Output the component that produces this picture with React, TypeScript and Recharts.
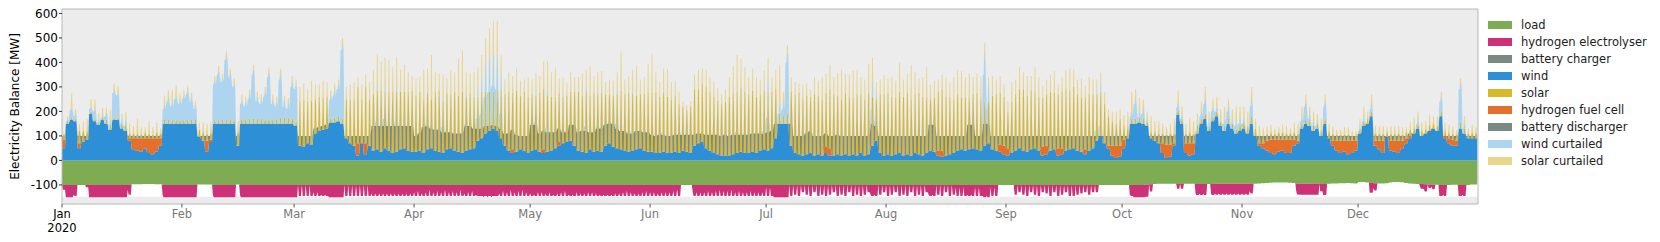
import { AreaChart, Area, XAxis, YAxis, CartesianGrid, ReferenceArea, Label } from 'recharts';

const FONT = 'DejaVu Sans, sans-serif';

const months = ['Jan', 'Feb', 'Mar', 'Apr', 'May', 'Jun', 'Jul', 'Aug', 'Sep', 'Oct', 'Nov', 'Dec'];
const monthStarts = [0, 31, 60, 91, 121, 152, 182, 213, 244, 274, 305, 335];
const yTicks = [-100, 0, 100, 200, 300, 400, 500, 600];

// daily values in MW, one row per month (2020)
const wind = [
  50,150,165,160,50,75,85,190,160,145,165,150,125,165,165,130,120,80,45,40,35,50,30,25,35,60,150,150,150,150,150,
  150,150,150,150,95,80,35,75,150,150,150,150,150,150,60,150,150,150,150,150,150,150,150,150,150,150,150,150,150,
  140,60,55,70,65,110,120,125,130,155,155,160,150,90,70,60,20,70,25,60,40,45,35,50,40,30,35,45,50,40,35,
  35,40,30,45,50,40,35,30,45,50,40,35,30,40,45,50,80,90,110,120,130,120,90,60,40,30,35,45,40,30,
  40,45,35,30,35,40,50,60,70,75,80,60,40,35,30,45,35,40,35,60,70,55,50,45,40,35,40,45,50,40,35,
  35,30,30,35,30,30,35,30,40,35,30,60,70,75,50,40,30,25,20,20,20,25,30,35,30,30,35,30,40,45,
  40,50,90,150,150,150,60,30,25,20,25,30,20,25,20,30,20,20,25,20,25,20,25,20,30,20,25,60,80,30,20,
  25,20,25,30,20,25,20,30,25,20,30,40,35,20,15,20,25,30,40,45,40,45,50,45,40,60,70,45,40,35,25,
  20,30,40,50,40,35,45,50,40,20,25,40,45,20,25,40,45,50,40,35,25,40,50,80,100,70,50,20,10,15,
  50,90,150,150,155,150,140,90,80,70,30,10,15,60,185,150,30,20,25,110,150,170,120,160,180,140,120,150,130,110,120,
  130,110,150,100,60,50,40,30,25,35,40,30,30,60,70,130,150,140,120,130,100,150,90,60,40,30,35,25,30,40,
  110,140,150,180,60,45,30,95,40,35,30,50,70,90,110,130,100,110,120,130,120,180,90,70,60,60,130,110,90,90,90,
];

const solar = [
  20,10,10,10,50,45,35,10,10,10,10,15,20,10,10,20,30,20,20,20,15,25,20,15,25,20,15,15,15,15,15,
  15,15,15,15,30,35,30,30,15,15,15,15,15,15,60,20,20,20,20,20,20,20,20,20,20,25,25,25,25,
  20,180,190,170,180,140,140,130,130,20,20,20,20,160,180,190,230,180,230,190,230,240,250,230,240,250,245,235,230,240,250,
  230,240,220,230,200,240,250,210,230,220,240,230,250,220,230,210,180,190,170,160,150,170,200,210,240,230,250,220,240,230,
  230,220,240,250,230,220,210,200,190,190,200,220,240,230,250,220,240,230,240,210,200,210,220,240,230,240,230,220,220,230,240,
  240,250,230,240,230,220,230,200,180,170,190,230,220,240,250,240,230,220,210,220,240,250,250,260,250,240,250,230,230,240,
  240,230,200,40,30,40,220,240,250,230,240,230,250,240,230,220,240,250,240,230,250,240,230,250,240,230,250,200,170,240,250,
  250,240,230,250,240,250,230,240,250,240,230,210,220,240,250,240,230,220,230,210,220,210,220,230,210,180,170,220,230,210,200,
  150,210,230,240,250,230,240,230,220,200,210,240,230,220,230,250,240,250,230,220,210,230,220,190,180,160,120,100,90,110,
  60,50,20,20,20,20,20,30,40,40,40,40,45,40,20,20,40,45,40,30,20,20,20,20,20,20,20,20,20,20,30,
  30,30,30,30,30,30,30,30,25,30,30,25,25,30,30,20,20,20,20,20,20,20,30,30,25,25,25,25,20,20,
  20,20,20,20,30,30,30,20,30,30,30,25,25,25,25,20,25,20,25,20,20,20,25,25,25,25,25,20,20,25,25,
];

const fuelCell = [
  35,0,0,0,20,0,0,0,0,0,0,0,0,0,0,0,0,10,45,50,55,40,60,65,55,30,0,0,0,0,0,
  0,0,0,0,0,0,45,10,0,0,0,0,0,0,0,0,0,0,0,0,0,0,0,0,0,0,0,0,0,
  0,0,0,0,0,0,0,0,0,0,0,0,0,0,0,0,50,0,45,0,0,0,0,0,0,0,0,0,0,0,0,
  0,0,0,0,0,0,0,0,0,0,0,0,0,0,0,0,0,0,0,0,0,0,0,0,0,15,0,0,0,0,
  0,0,0,15,0,0,0,15,0,0,0,0,0,0,0,0,0,0,0,0,0,0,0,0,0,0,0,0,0,0,0,
  0,0,0,0,0,0,0,0,0,0,0,0,0,0,0,0,0,0,0,0,0,0,0,0,0,0,0,0,0,0,
  0,0,0,0,0,0,0,0,0,0,0,0,0,0,0,25,30,0,0,0,0,0,0,0,0,0,0,0,0,0,0,
  0,0,0,0,0,0,0,0,0,0,0,0,0,20,25,0,0,0,0,0,0,0,0,0,0,0,0,0,0,30,35,
  30,0,0,0,0,0,0,0,0,35,35,0,0,30,25,0,0,0,0,0,20,0,0,0,0,0,10,40,50,45,
  35,0,0,0,0,0,0,0,0,0,40,55,50,10,0,0,40,50,45,0,0,0,0,0,0,0,0,0,0,0,0,
  0,0,0,0,10,20,40,55,60,50,45,55,55,25,10,0,0,0,0,0,0,0,0,20,40,50,45,55,50,40,
  0,0,0,0,20,35,50,0,40,45,50,30,20,10,0,0,0,0,0,0,0,0,10,20,25,20,0,0,0,0,0,
];

const discharger = [
  15,0,0,0,30,25,15,0,0,0,0,0,0,0,0,0,0,10,10,10,10,10,10,10,10,10,0,0,0,0,0,
  0,0,0,0,5,20,20,15,0,0,0,0,0,0,40,0,0,0,0,0,0,0,0,0,0,0,0,0,0,
  0,40,45,30,35,20,15,15,15,0,0,0,0,10,30,40,30,30,30,40,100,95,105,90,100,110,105,95,90,100,105,
  65,70,105,95,80,85,90,85,70,65,70,75,80,100,95,80,50,40,30,20,15,20,40,50,70,80,70,55,60,70,
  105,100,75,75,80,75,65,55,45,40,65,85,75,85,90,70,80,90,95,85,80,95,80,75,80,75,70,75,70,75,80,
  70,70,75,70,70,70,70,75,65,70,75,45,40,35,55,65,75,80,80,85,80,80,75,70,75,75,75,80,70,65,
  75,70,60,0,0,0,90,70,75,80,85,90,80,75,80,55,50,80,80,80,75,80,75,80,70,80,75,90,60,70,80,
  75,80,75,70,80,75,80,70,75,80,70,105,110,60,60,80,75,70,60,55,60,100,95,55,60,90,80,55,60,35,40,
  50,70,60,50,60,65,55,50,60,45,40,60,55,50,50,60,55,50,60,65,55,60,50,20,0,30,40,40,40,40,
  15,10,0,0,0,0,0,10,20,30,30,35,35,30,0,0,30,30,30,0,0,0,0,0,0,0,0,0,0,0,0,
  0,0,0,0,30,30,20,15,15,15,15,15,15,15,20,0,0,0,0,0,0,0,10,20,20,20,20,20,20,20,
  0,0,0,0,20,20,20,5,20,20,20,20,10,10,0,0,0,0,0,0,0,0,0,10,15,20,0,0,10,10,10,
];

const windCurtailed = [
  0,10,40,20,0,0,0,20,40,10,10,30,20,110,100,20,20,0,0,0,0,0,0,0,0,0,60,90,70,100,80,
  100,120,90,60,0,0,0,0,160,200,170,260,190,150,0,80,70,100,200,90,80,110,190,80,70,180,70,60,150,
  150,0,0,0,0,0,0,0,0,90,110,130,300,0,0,0,0,0,0,0,0,20,0,30,0,0,20,0,0,0,0,
  0,0,0,10,0,0,0,20,0,0,0,0,0,10,0,0,40,60,120,140,160,150,60,0,0,0,0,0,0,0,
  0,10,0,0,20,0,0,0,10,0,0,0,0,0,20,0,0,10,0,0,0,0,20,0,0,0,10,0,0,0,0,
  0,0,0,10,0,0,0,0,0,0,0,0,0,0,0,0,0,0,0,0,0,0,10,0,0,0,0,0,0,10,
  60,0,0,40,60,250,0,0,0,0,0,0,0,0,0,0,0,0,0,0,0,0,0,0,0,0,0,60,20,0,0,
  0,0,0,0,0,0,0,0,0,0,0,0,0,0,0,0,0,0,0,0,0,0,0,0,0,200,60,0,0,0,0,
  0,0,0,0,0,0,0,0,0,0,0,0,0,0,0,0,0,0,0,0,0,0,0,20,40,0,0,0,0,0,
  0,0,30,80,20,40,10,0,0,0,0,0,0,0,30,20,0,0,0,10,30,60,20,40,20,10,30,50,20,30,30,
  20,10,70,0,0,0,0,0,0,0,0,0,0,0,0,30,70,30,20,10,10,70,0,0,0,0,0,0,0,0,
  10,20,0,30,0,0,0,0,0,0,0,0,0,0,0,20,0,0,0,0,0,60,0,0,0,0,160,20,0,0,0,
];

const solarCurtailed = [
  10,10,60,20,30,40,50,30,40,30,30,20,40,30,30,20,30,40,30,60,30,20,50,30,40,20,40,30,50,40,30,
  20,20,20,20,30,40,40,40,20,20,20,20,20,20,40,20,20,20,20,20,20,20,20,20,20,20,20,20,20,
  20,60,70,50,80,60,50,70,60,20,30,20,30,50,60,70,40,60,50,70,100,130,120,110,130,100,120,90,110,80,60,
  70,60,120,90,180,80,70,90,60,100,80,150,170,90,80,100,80,90,100,120,130,130,80,60,80,70,90,60,50,80,
  60,80,70,110,120,100,120,60,70,50,80,60,60,90,70,120,70,80,90,50,60,60,70,160,60,70,90,120,60,70,120,
  160,80,60,90,110,70,60,50,20,20,20,60,80,60,70,60,60,50,40,50,80,110,140,120,100,70,90,80,60,70,
  80,60,80,160,40,30,60,50,40,60,50,30,70,60,90,80,100,70,90,120,80,90,110,100,70,80,120,100,50,60,80,
  60,80,70,120,70,80,140,90,60,80,120,60,70,50,60,80,60,90,100,110,80,100,70,80,90,40,40,80,60,70,50,
  40,80,60,90,70,80,60,100,80,50,60,70,90,40,60,80,90,70,60,80,50,70,60,40,40,50,30,40,50,40,
  40,60,80,40,60,40,30,60,40,50,40,30,40,60,50,30,40,60,50,40,40,50,40,30,40,40,50,30,40,60,40,
  40,50,50,40,40,30,30,30,20,20,30,30,20,40,40,40,30,30,40,30,40,30,30,30,20,20,30,30,20,20,
  30,40,30,40,30,30,30,20,30,30,30,30,20,30,40,30,30,30,40,30,40,20,30,30,30,20,20,30,20,30,20,
];

const load = [
  100,100,100,100,100,100,100,100,100,100,100,100,100,100,100,100,100,100,97,97,97,96,96,96,97,97,100,100,100,100,100,
  100,100,100,100,98,98,98,98,100,100,100,100,100,100,98,100,100,100,100,100,100,100,100,100,100,100,100,100,100,
  100,100,100,100,100,100,100,100,100,100,100,100,100,100,100,100,100,100,100,100,100,100,100,100,100,100,100,100,100,100,100,
  100,100,100,100,100,100,100,100,100,100,100,100,100,100,100,100,100,100,100,100,100,100,100,100,100,100,100,100,100,100,
  100,100,100,100,100,100,100,100,100,100,100,100,100,100,100,100,100,100,100,100,100,100,100,100,100,100,100,100,100,100,100,
  100,100,100,100,100,100,100,100,100,100,100,100,100,100,100,100,100,100,100,100,100,100,100,100,100,100,100,100,100,100,
  100,100,100,100,100,100,100,100,100,100,100,100,100,100,100,100,100,100,100,100,100,100,100,100,100,100,100,100,100,100,100,
  100,100,100,100,100,100,100,100,100,100,100,100,100,100,100,100,100,100,100,100,100,100,100,100,100,100,100,100,100,100,100,
  100,100,100,100,100,100,100,100,100,100,100,100,100,100,100,100,100,100,100,100,100,100,100,100,100,100,100,100,100,100,
  100,100,100,100,100,100,98,97,96,95,95,95,95,95,96,96,95,95,95,96,96,96,96,96,95,95,95,95,95,95,95,
  95,95,95,95,94,93,92,91,90,90,90,90,91,92,94,95,95,95,95,95,96,96,95,94,94,93,93,92,93,94,
  88,88,90,92,93,94,94,93,90,88,88,89,92,94,95,96,96,97,98,98,99,100,100,100,99,99,100,100,100,98,98,
];

const electrolyserDay = [
  20,50,50,45,0,0,10,50,50,50,50,50,50,50,50,50,50,40,0,0,0,0,0,0,0,0,50,50,50,50,50,
  50,50,50,50,0,0,0,0,50,50,50,50,50,50,0,50,50,50,50,50,50,50,50,50,50,50,50,50,50,
  50,45,45,45,45,45,45,45,45,50,50,50,50,45,45,45,45,45,45,45,45,45,45,45,45,45,45,45,45,45,45,
  45,45,45,45,45,45,45,45,45,45,45,45,45,45,45,45,45,45,45,45,45,45,45,45,45,45,45,45,45,45,
  45,45,45,45,45,45,45,45,45,45,45,45,45,45,45,45,45,45,45,45,45,45,45,45,45,45,45,45,45,45,45,
  45,45,45,45,45,45,45,45,0,0,0,45,45,45,45,45,45,45,45,45,45,45,45,45,45,45,45,45,45,45,
  45,45,50,50,50,50,45,40,45,30,40,45,30,45,40,45,40,30,45,40,45,30,45,40,45,40,30,45,45,40,30,
  45,40,30,45,40,45,30,45,40,45,30,45,45,40,45,30,45,40,45,45,45,45,45,45,45,50,50,45,45,0,0,
  0,0,40,30,40,45,30,40,45,30,35,45,30,45,40,30,45,45,40,35,30,40,30,30,0,0,0,0,0,0,
  0,0,45,50,50,50,50,30,0,0,0,0,0,0,20,20,0,0,0,45,45,45,0,45,45,45,45,45,45,45,45,
  45,45,40,0,0,0,0,0,0,0,0,0,0,0,45,45,45,45,45,45,30,45,0,0,0,0,0,0,0,0,
  0,0,0,40,30,0,0,0,0,0,0,0,0,0,0,0,20,30,15,20,0,45,45,0,0,0,45,45,0,0,0,
];

const electrolyserNight = [
  0,50,50,40,0,0,0,50,50,50,50,50,50,50,50,50,50,20,0,0,0,0,0,0,0,0,40,50,50,50,50,
  50,50,50,50,0,0,0,0,40,50,50,50,50,50,0,40,50,50,50,50,50,50,50,50,50,50,50,50,50,
  50,0,0,0,0,30,30,40,40,50,50,50,50,0,0,0,0,0,0,0,35,35,35,35,35,35,35,35,35,35,35,
  30,25,35,30,20,30,25,30,20,30,25,30,20,35,30,25,40,45,50,50,50,45,35,25,30,20,30,25,20,30,
  35,40,30,30,35,30,40,35,30,25,40,40,30,35,35,30,30,35,40,40,40,40,35,35,30,25,30,35,35,30,25,
  30,30,35,30,30,30,25,20,0,0,0,25,30,30,30,25,30,25,20,25,25,20,30,25,30,30,25,30,30,30,
  10,10,50,50,50,50,0,0,0,0,0,0,0,0,0,0,0,0,0,0,0,0,0,0,0,0,0,40,40,0,0,
  0,0,0,0,0,0,0,0,0,0,0,40,40,0,0,0,0,0,10,10,10,40,40,10,10,45,45,10,10,0,0,
  0,0,0,0,0,0,0,0,0,0,0,0,0,0,0,0,0,0,0,0,0,0,0,0,0,0,0,0,0,0,
  0,0,40,50,50,50,50,0,0,0,0,0,0,0,0,0,0,0,0,40,40,40,0,40,40,40,40,40,40,40,40,
  40,40,30,0,0,0,0,0,0,0,0,0,0,0,30,45,45,45,45,45,0,45,0,0,0,0,0,0,0,0,
  0,0,0,40,20,0,0,0,0,0,0,0,0,0,0,0,10,20,0,10,0,45,40,0,0,0,45,40,0,0,0,
];

const legendItems = [
  { name: 'load', color: '#7eac52' },
  { name: 'hydrogen electrolyser', color: '#cf3179' },
  { name: 'battery charger', color: '#7a8a83' },
  { name: 'wind', color: '#2d8fd5' },
  { name: 'solar', color: '#d9b82a' },
  { name: 'hydrogen fuel cell', color: '#e5702b' },
  { name: 'battery discharger', color: '#7a8a83' },
  { name: 'wind curtailed', color: '#aed5f0' },
  { name: 'solar curtailed', color: '#e9d68c' },
];

// stacking order: negatives from zero downwards, positives from zero upwards
const areas = [
  { key: 'load', color: '#7eac52' },
  { key: 'electrolyser', color: '#cf3179' },
  { key: 'wind', color: '#2d8fd5' },
  { key: 'fuelCell', color: '#e5702b' },
  { key: 'solar', color: '#d9b82a' },
  { key: 'discharger', color: '#7a8a83' },
  { key: 'windCurtailed', color: '#aed5f0' },
  { key: 'solarCurtailed', color: '#e9d68c' },
];

// each day: midnight, dawn, two daylight points, dusk
const rows: Record<string, number>[] = [];
wind.forEach((w, i) => {
  const dark = {
    load: -load[i], wind: w, solar: 0, fuelCell: fuelCell[i], discharger: discharger[i],
    windCurtailed: windCurtailed[i], solarCurtailed: 0,
  };
  const lit = {
    load: -load[i], wind: w, solar: solar[i], fuelCell: fuelCell[i], discharger: 0,
    windCurtailed: windCurtailed[i], solarCurtailed: solarCurtailed[i],
  };
  const dayElectrolyser = -electrolyserDay[i] - 0.001;
  rows.push({ t: i, ...dark, electrolyser: -electrolyserNight[i] - 0.001 });
  rows.push({ t: i + 0.22, ...dark, electrolyser: dayElectrolyser });
  rows.push({ t: i + 0.38, ...lit, electrolyser: dayElectrolyser });
  rows.push({ t: i + 0.62, ...lit, electrolyser: dayElectrolyser });
  rows.push({ t: i + 0.78, ...dark, electrolyser: dayElectrolyser });
});

const MonthTick = ({ x, y, payload }: any) => {
  const i = monthStarts.indexOf(payload.value);
  const first = i === 0;
  return (
    <g fontFamily={FONT} fontSize={11.5} textAnchor="middle">
      <text x={x} y={y + 8.5} fill={first ? '#000' : '#777'}>{months[i]}</text>
      {first && <text x={x} y={y + 22.5} fill="#000">2020</text>}
    </g>
  );
};

const YLabel = ({ viewBox }: any) => {
  const cy = viewBox ? viewBox.y + viewBox.height / 2 : 106.5;
  return (
    <text x={19} y={cy} transform={`rotate(-90 19 ${cy})`} textAnchor="middle" fontFamily={FONT} fontSize={12} fill="#000">
      Electricity Balance [MW]
    </text>
  );
};

export default function App() {
  return (
    <div style={{ position: 'absolute', left: 0, top: 0, width: 1660, height: 242, background: '#fff' }}>
      <AreaChart width={1480} height={242} data={rows} stackOffset="sign" margin={{ top: 9, right: 2, bottom: 0, left: 0 }}>
        <CartesianGrid fill="#ececec" stroke="none" horizontal={false} vertical={false} />
        <ReferenceArea x1={0} x2={366} y1={-148} y2={-88} fill="#ffffff" fillOpacity={1} stroke="none" ifOverflow="visible" zIndex={-50} />
        <XAxis
          type="number"
          dataKey="t"
          domain={[0, 366]}
          ticks={monthStarts}
          interval={0}
          allowDataOverflow
          height={38}
          axisLine={false}
          tickSize={3.5}
          tickLine={{ stroke: '#555' }}
          tick={<MonthTick />}
        />
        <YAxis
          type="number"
          domain={[-178, 618]}
          ticks={yTicks}
          allowDataOverflow
          width={62}
          axisLine={false}
          tickSize={3}
          tickMargin={1}
          tickLine={{ stroke: '#333' }}
          tick={{ fill: '#000', fontSize: 12, fontFamily: FONT }}
        >
          <Label content={<YLabel />} />
        </YAxis>
        {areas.map((a) => (
          <Area
            key={a.key}
            type="linear"
            dataKey={a.key}
            stackId="balance"
            fill={a.color}
            fillOpacity={1}
            stroke="none"
            dot={false}
            activeDot={false}
            isAnimationActive={false}
          />
        ))}
        <ReferenceArea x1={0} x2={366} y1={-178} y2={618} fill="none" stroke="#b8b8b8" ifOverflow="visible" />
      </AreaChart>
      <div style={{ position: 'absolute', left: 1488, top: 16, fontFamily: FONT, fontSize: 11.5, color: '#222' }}>
        {legendItems.map((s) => (
          <div key={s.name} style={{ display: 'flex', alignItems: 'center', height: 17, whiteSpace: 'nowrap' }}>
            <span style={{ display: 'inline-block', width: 24, height: 8, background: s.color, marginRight: 9 }} />
            <span>{s.name}</span>
          </div>
        ))}
      </div>
    </div>
  );
}
